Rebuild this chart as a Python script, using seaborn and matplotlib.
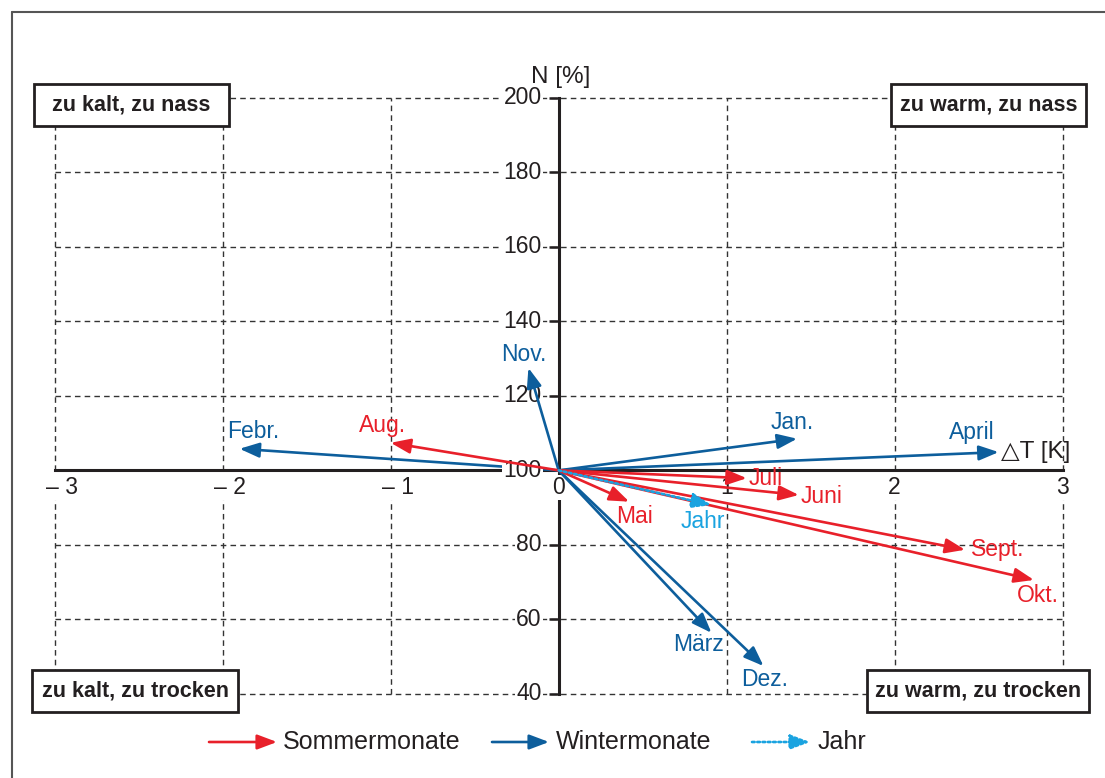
import matplotlib
matplotlib.use("Agg")
import matplotlib.pyplot as plt
from matplotlib.patches import FancyArrowPatch, Rectangle
from matplotlib.lines import Line2D
import seaborn as sns

# ---------- data ----------
months = ["Jan.", "Febr.", "März", "April", "Mai", "Juni", "Juli",
          "Aug.", "Sept.", "Okt.", "Nov.", "Dez.", "Jahr"]
delta_t = [1.42, -1.90, 0.91, 2.62, 0.42, 1.43, 1.12,
           -1.00, 2.42, 2.83, -0.18, 1.22, 0.91]
precip = [108.5, 105.8, 56.4, 104.9, 91.6, 93.4, 97.9,
          107.4, 78.7, 70.6, 127.5, 47.5, 90.7]
group = ["Winter", "Winter", "Winter", "Winter", "Sommer", "Sommer", "Sommer",
         "Sommer", "Sommer", "Sommer", "Winter", "Winter", "Jahr"]

x_ticks = [-3, -2, -1, 0, 1, 2, 3]
x_tick_labels = ["\u2013 3", "\u2013 2", "\u2013 1", "0", "1", "2", "3"]
y_ticks = [40, 60, 80, 100, 120, 140, 160, 180, 200]

quadrant_labels = ["zu kalt, zu nass", "zu warm, zu nass",
                   "zu kalt, zu trocken", "zu warm, zu trocken"]
legend_groups = ["Sommer", "Winter", "Jahr"]
legend_labels = ["Sommermonate", "Wintermonate", "Jahr"]

# ---------- style ----------
COLORS = {"Sommer": "#e8202a", "Winter": "#0d5e9c", "Jahr": "#1aa3e0"}
LINESTYLES = {"Sommer": "-", "Winter": "-", "Jahr": (0, (1, 1))}
ZORDERS = {"Sommer": 5, "Winter": 4, "Jahr": 5}
INK = "#231f20"

# label offsets from arrow tip, in pixels (x right, y up)
LABEL_OFFSET = {
    "Jan.": (-5, 16), "Febr.": (14, 17), "März": (-13, -12), "April": (-27, 20),
    "Mai": (5, -15), "Juni": (23, -2), "Juli": (19, 0), "Aug.": (-8, 17),
    "Sept.": (33, 0), "Okt.": (4, -16), "Nov.": (-5, 13), "Dez.": (1, -13),
    "Jahr": (-9, -16),
}

W, H = 1105, 778

sns.set_theme(style="white")
plt.rcParams["font.family"] = ["Liberation Sans", "DejaVu Sans"]
plt.rcParams["text.color"] = INK


def px(x, y):
    """figure pixel (from top-left) -> figure fraction"""
    return x / W, 1 - y / H


def make_arrow(p0, p1, color, ls, transform, z=4):
    return FancyArrowPatch(
        p0, p1, arrowstyle="-|>,head_length=0.85,head_width=0.32",
        mutation_scale=14, lw=1.9, color=color, linestyle=ls,
        shrinkA=0, shrinkB=0, transform=transform, zorder=z,
    )


fig = plt.figure(figsize=(W / 100, H / 100), dpi=100)
left, bottom = px(54.8, 694)
right, top = px(1062.5, 97.7)
ax = fig.add_axes([left, bottom, right - left, top - bottom])
ax.set_xlim(-3, 3)
ax.set_ylim(40, 200)

# axes crossing at (0, 100)
for side in ["top", "right"]:
    ax.spines[side].set_visible(False)
ax.spines["bottom"].set_position(("data", 100))
ax.spines["left"].set_position(("data", 0))
for side in ["bottom", "left"]:
    ax.spines[side].set_linewidth(2.2)
    ax.spines[side].set_color(INK)
    ax.spines[side].set_zorder(3)

ax.set_xticks(x_ticks)
ax.set_yticks(y_ticks)
ax.tick_params(axis="x", bottom=False, length=0, labelbottom=False)
ax.tick_params(axis="y", left=True, length=7, width=1.8, color=INK,
               direction="out", labelleft=False)
ax.grid(True, linestyle=(0, (4, 3)), linewidth=1.0, color="#333333")
ax.set_axisbelow(True)
for gl in ax.get_xgridlines() + ax.get_ygridlines():
    gl.set_clip_on(False)
for tl in ax.yaxis.get_ticklines():
    tl.set_zorder(3.6)

# tick labels with white background
for xv, lab in zip(x_ticks, x_tick_labels):
    dx = 7 if xv < 0 else 0
    ax.annotate(lab, xy=(xv, 100), xytext=(dx, -17), textcoords="offset pixels",
                ha="center", va="center", fontsize=16.5, zorder=3.5,
                bbox=dict(fc="white", ec="none", pad=1))
for yv in y_ticks:
    ax.annotate(str(yv), xy=(0, yv), xytext=(-17, 0), textcoords="offset pixels",
                ha="right", va="center", fontsize=16.5,
                zorder=4.5 if yv == 100 else 3.5,
                bbox=dict(fc="white", ec="none", pad=1))

ax.annotate("N [%]", xy=(0, 200), xytext=(2, 21), textcoords="offset pixels",
            ha="center", va="center", fontsize=17.5)
ax.annotate("\u25b3T [K]", xy=(3, 100), xytext=(8, 18), textcoords="offset pixels",
            ha="right", va="center", fontsize=17.5)

# arrows from origin (0, 100)
for m, dt, n, g in zip(months, delta_t, precip, group):
    ax.add_patch(make_arrow((0, 100), (dt, n), COLORS[g], LINESTYLES[g],
                            ax.transData, ZORDERS[g]))
    ax.annotate(m, xy=(dt, n), xytext=LABEL_OFFSET[m], textcoords="offset pixels",
                ha="center", va="center", fontsize=16.5, color=COLORS[g], zorder=6)

# quadrant boxes (pixel boxes: x0, y0, x1, y1)
boxes = [(34, 84, 229, 126), (891, 84, 1086, 126), (32, 670, 238, 712), (867, 670, 1089, 712)]
for (x0, y0, x1, y1), lab in zip(boxes, quadrant_labels):
    fx0, fy1 = px(x0, y1)
    fx1, fy0 = px(x1, y0)
    fig.add_artist(Rectangle((fx0, fy1), fx1 - fx0, fy0 - fy1, transform=fig.transFigure,
                             fc="white", ec=INK, lw=2.0, zorder=7))
    cx, cy = px((x0 + x1) / 2, (y0 + y1) / 2)
    fig.text(cx, cy, lab, ha="center", va="center", fontsize=15.5, fontweight="bold",
             zorder=8)

# legend
legend_pos = [(209, 277, 283), (492, 549, 556), (752, 810, 818)]
for (a0, a1, tx), g, lab in zip(legend_pos, legend_groups, legend_labels):
    fig.add_artist(make_arrow(px(a0, 742), px(a1, 742), COLORS[g], LINESTYLES[g],
                              fig.transFigure))
    fig.text(*px(tx, 742), lab, ha="left", va="center", fontsize=18)

# outer frame
fig.add_artist(Line2D([12 / W, 1], [1 - 12 / H, 1 - 12 / H], transform=fig.transFigure,
                      color="#555555", lw=1.5))
fig.add_artist(Line2D([12 / W, 12 / W], [0, 1 - 12 / H], transform=fig.transFigure,
                      color="#555555", lw=1.5))

fig.savefig("out.png", dpi=100)
